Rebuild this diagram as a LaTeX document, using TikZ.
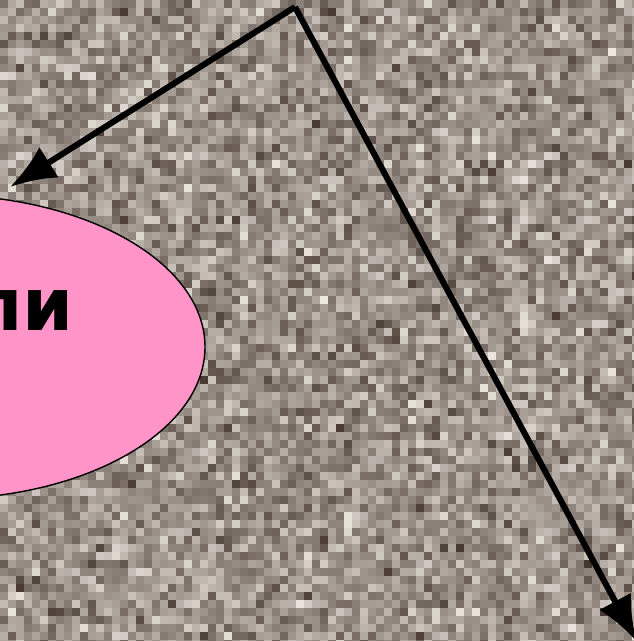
\documentclass[tikz,border=0pt]{standalone}
\usepackage{fontspec}
\setmainfont{DejaVu Sans}
\usetikzlibrary{positioning,arrows.meta,calc,shapes.geometric}
\definecolor{GraniteDark}{RGB}{62,48,40}
\definecolor{GraniteLight}{RGB}{246,240,232}
\definecolor{GoalPink}{RGB}{255,148,200}
\tikzset{
  goalshape/.style={ellipse,draw=black,line width=1.4pt,fill=GoalPink,minimum width=530pt,minimum height=304pt,inner sep=0pt},
  goaltext/.style={font=\bfseries\fontsize{73}{80}\selectfont,inner sep=0pt},
  linkarrow/.style={-{Latex[length=46pt,width=36pt]},line width=6pt,black}
}
\begin{document}
\begin{tikzpicture}[x=1pt,y=1pt]
			\useasboundingbox (0,0) rectangle (634,-641);
			\clip (0,0) rectangle (634,-641);
			% granite background
			\pgfmathsetseed{11}
			\fill[GraniteDark!45!GraniteLight] (0,0) rectangle (634,-641);
			\foreach \i in {0,...,79}{
				\foreach \j in {0,...,80}{
					\pgfmathtruncatemacro{\p}{100*(rnd+rnd+rnd)/3}
					\fill[GraniteDark!\p!GraniteLight] (8*\i,-8*\j) rectangle ++(8,-8);
				}
			}
			\node[goalshape] (goal) at (-60,-347) {};
			\node[goaltext,anchor=base east] (goalname) at (74,-330) {ли};
			\coordinate (top) at (295,-7);
			\coordinate (goalend) at (10,-187);
			\coordinate (lowend) at (637,-642);
			\draw[linkarrow] (top)--(goalend);
			\draw[linkarrow] (top)--(lowend);
		\end{tikzpicture}
\end{document}
